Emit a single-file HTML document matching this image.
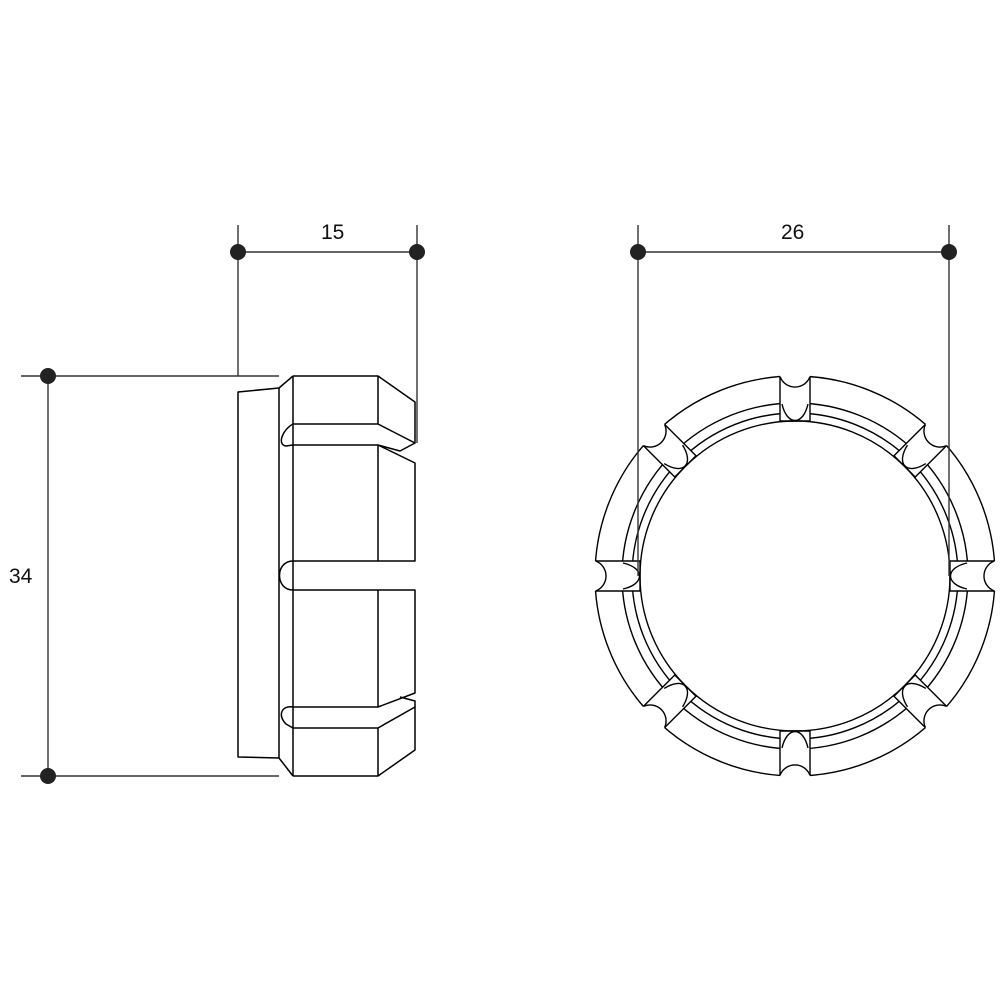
<!DOCTYPE html>
<html><head><meta charset="utf-8"><style>
html,body{margin:0;padding:0;background:#fff;width:1000px;height:1000px;overflow:hidden}
svg{display:block}
text{font-family:"Liberation Sans",sans-serif;font-size:21px;fill:#111}
</style></head><body>
<svg width="1000" height="1000" viewBox="0 0 1000 1000" xmlns="http://www.w3.org/2000/svg">
<defs>
<g id="gap">
  <rect x="-15" y="-215" width="30" height="58" fill="#fff" stroke="none"/>
  <line x1="-15" y1="-154.3" x2="-15" y2="-199.4"/>
  <line x1="15" y1="-154.3" x2="15" y2="-199.4"/>
  <path d="M-15,-199.4 A16,16 0 0 0 15,-199.4" />
  <path d="M-13,-172 C-8,-150 8,-150 13,-172" />
  <line x1="-15" y1="-155" x2="15" y2="-155"/>
</g>
</defs>
<!-- ring -->
<g stroke="#000" stroke-width="1.4" fill="none" transform="translate(795,576)">
  <circle r="200"/>
  <circle r="173"/>
  <circle r="163"/>
  <circle r="155"/>
  <use href="#gap"/>
  <use href="#gap" transform="rotate(45)"/>
  <use href="#gap" transform="rotate(90)"/>
  <use href="#gap" transform="rotate(135)"/>
  <use href="#gap" transform="rotate(180)"/>
  <use href="#gap" transform="rotate(225)"/>
  <use href="#gap" transform="rotate(270)"/>
  <use href="#gap" transform="rotate(315)"/>
</g>
<!-- dimension lines -->
<g stroke="#333" stroke-width="1.4" fill="none">
  <line x1="21" y1="376" x2="279" y2="376"/>
  <line x1="21" y1="776" x2="279" y2="776"/>
  <line x1="48" y1="376" x2="48" y2="776"/>
  <line x1="238" y1="225" x2="238" y2="376"/>
  <line x1="417" y1="225" x2="417" y2="443"/>
  <line x1="238" y1="252" x2="417" y2="252"/>
  <line x1="638" y1="225" x2="638" y2="576"/>
  <line x1="949" y1="225" x2="949" y2="576"/>
  <line x1="638" y1="252" x2="949" y2="252"/>
</g>
<g fill="#222">
  <circle cx="48" cy="376" r="8"/><circle cx="48" cy="776" r="8"/>
  <circle cx="238" cy="252" r="8"/><circle cx="417" cy="252" r="8"/>
  <circle cx="638" cy="252" r="8"/><circle cx="949" cy="252" r="8"/>
</g>
<text x="9" y="583">34</text>
<text x="321" y="239">15</text>
<text x="781" y="239">26</text>
<!-- side view -->
<g stroke="#000" stroke-width="1.5" fill="none" stroke-linejoin="round">
  <path d="M279,388 L238,392 L238,757 L279,758 Z"/>
  <path d="M279,388 L293,376 M279,758 L293,776"/>
  <line x1="293" y1="376" x2="293" y2="776"/>
  <path d="M293,376 L378,376 L415,402 L415,443 L378,424 L293,424"/>
  <line x1="378" y1="376" x2="378" y2="424"/>
  <path d="M293,424 C282,430 277,445 286,446 L293,445"/>
  <path d="M415,443 L400,451 L378,445"/>
  <path d="M293,445 L378,445 L415,463 L415,561 L293,561"/>
  <line x1="378" y1="445" x2="378" y2="561"/>
  <path d="M293,561 C275,561 275,590 293,590"/>
  <path d="M293,590 L415,590 L415,693 L378,707 L293,707"/>
  <line x1="378" y1="590" x2="378" y2="707"/>
  <path d="M293,707 C282,705 277,715 286,724 L293,728"/>
  <path d="M400,697 L415,701 L415,707"/>
  <path d="M293,728 L378,728 L415,707 L415,750 L378,776 L293,776"/>
  <line x1="378" y1="728" x2="378" y2="776"/>
</g>
</svg>
</body></html>
